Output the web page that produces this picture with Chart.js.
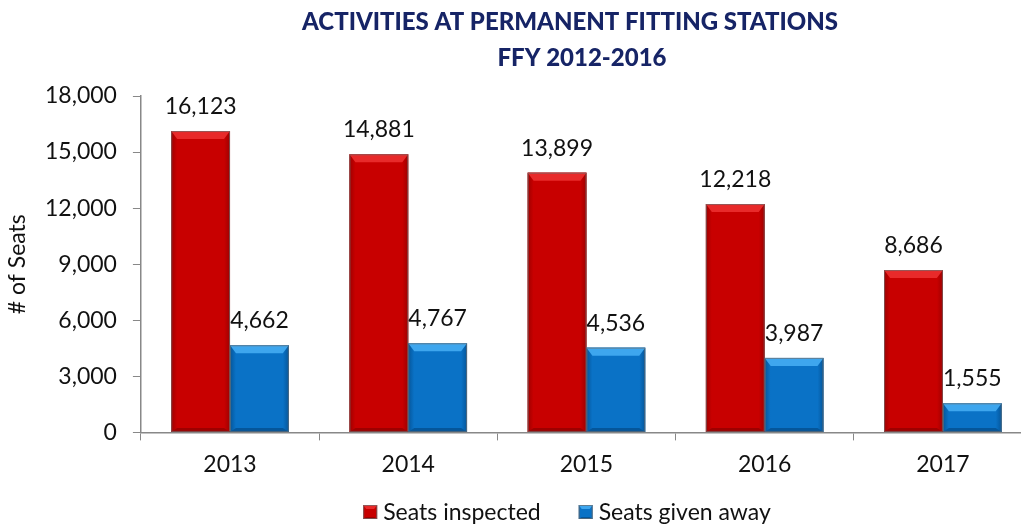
<!DOCTYPE html>
<html>
<head>
<meta charset="utf-8">
<script src="https://cdn.jsdelivr.net/npm/chart.js@4.4.0/dist/chart.umd.min.js"></script>
<style>
  html, body { margin: 0; padding: 0; background: #fff; overflow: hidden; }
  #wrap { position: relative; width: 1032px; height: 525px; }
</style>
</head>
<body>
<div id="wrap"><canvas id="seats-chart"></canvas></div>
<script>
const years = ["2013", "2014", "2015", "2016", "2017"];
const inspected = [16123, 14881, 13899, 12218, 8686];
const givenAway = [4662, 4767, 4536, 3987, 1555];
const yTicks = [0, 3000, 6000, 9000, 12000, 15000, 18000];
const seriesNames = ["Seats inspected", "Seats given away"];

const FONT = "Lato, 'Open Sans', sans-serif";
const fmt = (v) => v.toLocaleString("en-US");

// bar face colours: base, bevel highlight, edge shade
const shades = [
  { base: "#c80000", light: "#e82a2a", dark: "#9e0000" },
  { base: "#0a72c6", light: "#3ea6ee", dark: "#05569a" },
];

// bevelled box used for bars and legend keys
function bevelBox(ctx, x0, x1, top, bot, c, e, h) {
  const g = ctx.createLinearGradient(x0, 0, x1, 0);
  g.addColorStop(0, c.dark);
  g.addColorStop(0.1, c.base);
  g.addColorStop(0.9, c.base);
  g.addColorStop(1, c.dark);
  ctx.fillStyle = g;
  ctx.fillRect(x0, top, x1 - x0, bot - top);
  ctx.fillStyle = c.light;
  ctx.beginPath();
  ctx.moveTo(x0, top);
  ctx.lineTo(x1, top);
  ctx.lineTo(x1 - e, top + h);
  ctx.lineTo(x0 + e, top + h);
  ctx.closePath();
  ctx.fill();
  ctx.fillStyle = c.dark;
  ctx.beginPath();
  ctx.moveTo(x0, bot);
  ctx.lineTo(x1, bot);
  ctx.lineTo(x1 - e, bot - h / 2);
  ctx.lineTo(x0 + e, bot - h / 2);
  ctx.closePath();
  ctx.fill();
  ctx.strokeStyle = "rgba(110,110,110,0.7)";
  ctx.lineWidth = 1;
  ctx.strokeRect(x0 + 0.5, top + 0.5, x1 - x0 - 1, bot - top - 1);
}

// two-line heading
const titlePlugin = {
  id: "heading",
  afterDraw(chart) {
    const ctx = chart.ctx;
    ctx.save();
    ctx.fillStyle = "#162466";
    ctx.font = "900 24px " + FONT;
    ctx.textAlign = "center";
    ctx.textBaseline = "middle";
    ctx.fillText("ACTIVITIES AT PERMANENT FITTING STATIONS", 570, 22);
    ctx.fillText("FFY 2012-2016", 582, 58);
    ctx.restore();
  },
};

const bevelPlugin = {
  id: "bevel",
  afterDatasetsDraw(chart) {
    const ctx = chart.ctx;
    chart.data.datasets.forEach((ds, i) => {
      chart.getDatasetMeta(i).data.forEach((bar) => {
        const h = Math.min(8, (bar.base - bar.y) / 3);
        ctx.save();
        bevelBox(ctx, bar.x - bar.width / 2, bar.x + bar.width / 2, bar.y, bar.base, shades[i], 6, h);
        ctx.restore();
      });
    });
  },
};

// value labels above bars
const valueLabels = {
  id: "valueLabels",
  afterDatasetsDraw(chart) {
    const ctx = chart.ctx;
    ctx.save();
    ctx.fillStyle = "#111";
    ctx.font = "23px " + FONT;
    ctx.textAlign = "center";
    ctx.textBaseline = "alphabetic";
    chart.data.datasets.forEach((ds, i) => {
      chart.getDatasetMeta(i).data.forEach((bar, j) => {
        ctx.fillText(fmt(ds.data[j]), bar.x, bar.y - 17);
      });
    });
    ctx.restore();
  },
};

// legend row under the axis
const legendRow = {
  id: "legendRow",
  afterDraw(chart) {
    const ctx = chart.ctx;
    ctx.save();
    ctx.font = "23px " + FONT;
    ctx.textBaseline = "middle";
    ctx.textAlign = "left";
    const box = 14, gap = 6, between = 38, cy = 512;
    const widths = seriesNames.map((n) => ctx.measureText(n).width);
    const total = widths.reduce((a, w) => a + box + gap + w, 0) + between;
    let x = 567 - total / 2;
    seriesNames.forEach((name, i) => {
      bevelBox(ctx, x, x + box, cy - box / 2, cy + box / 2, shades[i], 3, 4);
      ctx.fillStyle = "#111";
      ctx.fillText(name, x + box + gap, cy + 1);
      x += box + gap + widths[i] + between;
    });
    ctx.restore();
  },
};

new Chart(document.querySelector("#seats-chart"), {
  type: "bar",
  data: {
    labels: years,
    datasets: [
      { label: seriesNames[0], data: inspected, backgroundColor: shades[0].base, borderWidth: 0 },
      { label: seriesNames[1], data: givenAway, backgroundColor: shades[1].base, borderWidth: 0 },
    ],
  },
  options: {
    responsive: true,
    maintainAspectRatio: false,
    animation: false,
    layout: { padding: { top: 96, left: 0, right: 0, bottom: 37 } },
    datasets: { bar: { categoryPercentage: 0.66, barPercentage: 1.0 } },
    scales: {
      x: {
        grid: {
          offset: true,
          drawOnChartArea: false,
          tickLength: 8,
          color: "#888",
        },
        border: { color: "#888", width: 1.5 },
        ticks: { color: "#111", font: { family: FONT, size: 23 }, padding: 10 },
      },
      y: {
        min: 0,
        max: 18000,
        afterBuildTicks(axis) {
          axis.ticks = yTicks.map((v) => ({ value: v }));
        },
        grid: { drawOnChartArea: false, tickLength: 8, color: "#888" },
        border: { color: "#888", width: 1.5 },
        ticks: {
          color: "#111",
          font: { family: FONT, size: 23 },
          padding: 16,
          callback: (v) => fmt(v),
        },
        title: {
          display: true,
          text: "# of Seats",
          color: "#111",
          font: { family: FONT, size: 23, lineHeight: 1 },
          padding: { top: 6, bottom: 0 },
        },
      },
    },
    plugins: {
      legend: { display: false },
      tooltip: { enabled: false },
    },
  },
  plugins: [titlePlugin, bevelPlugin, valueLabels, legendRow],
});
</script>
</body>
</html>
